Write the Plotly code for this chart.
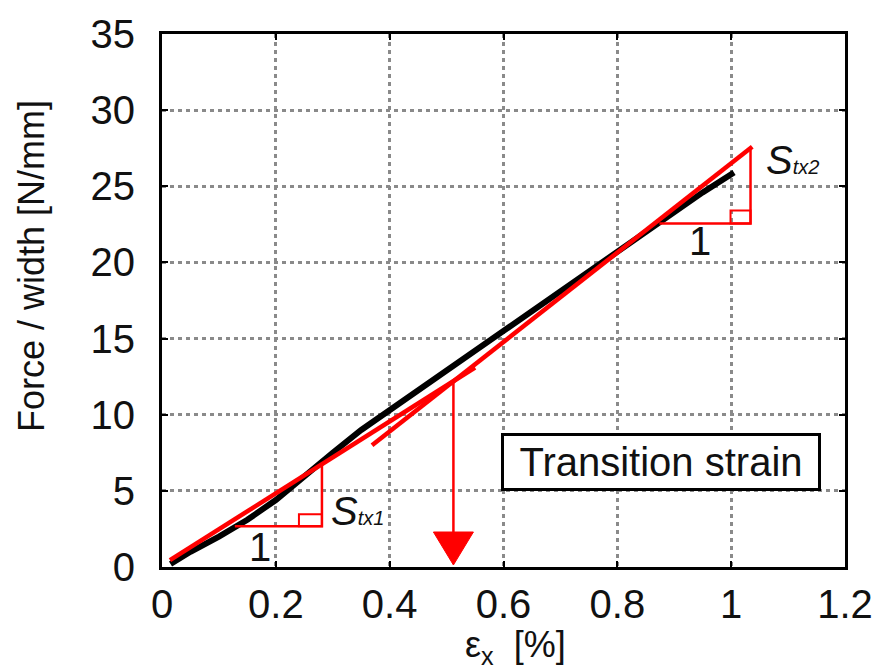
import plotly.graph_objects as go

# ---- data ----
strain = [0.015, 0.05, 0.10, 0.15, 0.20, 0.25, 0.30, 0.35, 0.40, 0.45, 0.50,
          0.55, 0.60, 0.65, 0.70, 0.75, 0.80, 0.85, 0.90, 0.95, 1.005]
force = [0.2, 1.0, 2.0, 3.1, 4.4, 6.0, 7.5, 9.0, 10.3, 11.7, 13.0,
         14.3, 15.6, 16.9, 18.2, 19.5, 20.8, 22.1, 23.3, 24.6, 25.9]

fit1_strain = [0.014, 0.55]
fit1_force = [0.45, 13.1]
fit2_strain = [0.369, 1.037]
fit2_force = [8.0, 27.6]

tri1_strain = [0.128, 0.281, 0.281]
tri1_force = [2.68, 2.68, 6.7]
tri2_strain = [0.874, 1.034, 1.034]
tri2_force = [22.55, 22.55, 27.4]

transition_strain = 0.512
arrow_top_force = 12.1
arrow_bottom_force = 1.6

x_ticks = [0, 0.2, 0.4, 0.6, 0.8, 1.0, 1.2]
x_tick_labels = ["0", "0.2", "0.4", "0.6", "0.8", "1", "1.2"]
y_ticks = [0, 5, 10, 15, 20, 25, 30, 35]
y_tick_labels = ["0", "5", "10", "15", "20", "25", "30", "35"]

FONT = "Liberation Sans, Arial, sans-serif"
RED = "#ff0000"

fig = go.Figure()

fig.add_trace(go.Scatter(x=strain, y=force, mode="lines",
                         line=dict(color="black", width=6), showlegend=False))
fig.add_trace(go.Scatter(x=fit1_strain, y=fit1_force, mode="lines",
                         line=dict(color=RED, width=4.5), showlegend=False))
fig.add_trace(go.Scatter(x=fit2_strain, y=fit2_force, mode="lines",
                         line=dict(color=RED, width=4.5), showlegend=False))
fig.add_trace(go.Scatter(x=tri1_strain, y=tri1_force, mode="lines",
                         line=dict(color=RED, width=2.5), showlegend=False))
fig.add_trace(go.Scatter(x=tri2_strain, y=tri2_force, mode="lines",
                         line=dict(color=RED, width=2.5), showlegend=False))
fig.add_trace(go.Scatter(x=[transition_strain, transition_strain],
                         y=[arrow_top_force, arrow_bottom_force], mode="lines",
                         line=dict(color=RED, width=2.5), showlegend=False))

# right-angle squares (pixel sized, anchored at triangle corners)
for cx, cy, w, h in [(tri1_strain[1], tri1_force[1], 23, 12),
                     (tri2_strain[1], tri2_force[1], 20, 13)]:
    fig.add_shape(type="rect", xref="x", yref="y", xsizemode="pixel", ysizemode="pixel",
                  xanchor=cx, yanchor=cy, x0=-w, x1=0, y0=0, y1=h,
                  line=dict(color=RED, width=2))

# arrow head
fig.add_shape(type="path", xref="x", yref="y", xsizemode="pixel", ysizemode="pixel",
              xanchor=transition_strain, yanchor=0,
              path="M-20,35 L20,35 L0,2 Z", fillcolor=RED, line=dict(color=RED, width=1))

ann_font = dict(family=FONT, size=40, color="#111")
fig.add_annotation(x=0.173, y=1.3, text="1", showarrow=False, font=ann_font)
fig.add_annotation(x=0.946, y=21.4, text="1", showarrow=False, font=ann_font)
fig.add_annotation(x=0.293, y=3.7, xanchor="left", showarrow=False, font=ann_font,
                   text="<i>S</i><span style='font-size:20px'><i>tx1</i></span>")
fig.add_annotation(x=1.058, y=26.7, xanchor="left", showarrow=False, font=ann_font,
                   text="<i>S</i><span style='font-size:20px'><i>tx2</i></span>")
fig.add_annotation(x=0.876, y=6.9, text="Transition strain", showarrow=False,
                   font=ann_font, bgcolor="white", bordercolor="black", borderwidth=3,
                   borderpad=0, width=314, height=52)

# axis titles
fig.add_annotation(xref="paper", yref="paper", x=0.5175, y=-0.15,
                   xanchor="center", yanchor="middle",
                   text="ε<sub>x</sub>  [%]", showarrow=False,
                   font=dict(family=FONT, size=36, color="#111"))
fig.add_annotation(xref="paper", yref="paper", x=-0.19, y=0.565, textangle=-90,
                   xanchor="center", yanchor="middle",
                   text="Force / width [N/mm]", showarrow=False,
                   font=dict(family=FONT, size=36, color="#111"))

axis_common = dict(showline=True, linecolor="black", linewidth=3, mirror="ticks",
                   ticks="inside", ticklen=6, tickwidth=2, tickcolor="black",
                   showgrid=True, gridcolor="#8a8a8a", gridwidth=2.5, griddash="4px,4px",
                   zeroline=False, tickfont=dict(family=FONT, size=40, color="#111"))

fig.update_xaxes(range=[0, 1.2], tickvals=x_ticks, ticktext=x_tick_labels,
                 ticklabelstandoff=0, **axis_common)
fig.update_yaxes(range=[0, 35], tickvals=y_ticks, ticktext=y_tick_labels,
                 ticklabelstandoff=16, **axis_common)

fig.update_layout(width=885, height=671, autosize=False,
                  margin=dict(l=162, r=37, t=27, b=104),
                  plot_bgcolor="white", paper_bgcolor="white")

fig.write_html("out.html")
